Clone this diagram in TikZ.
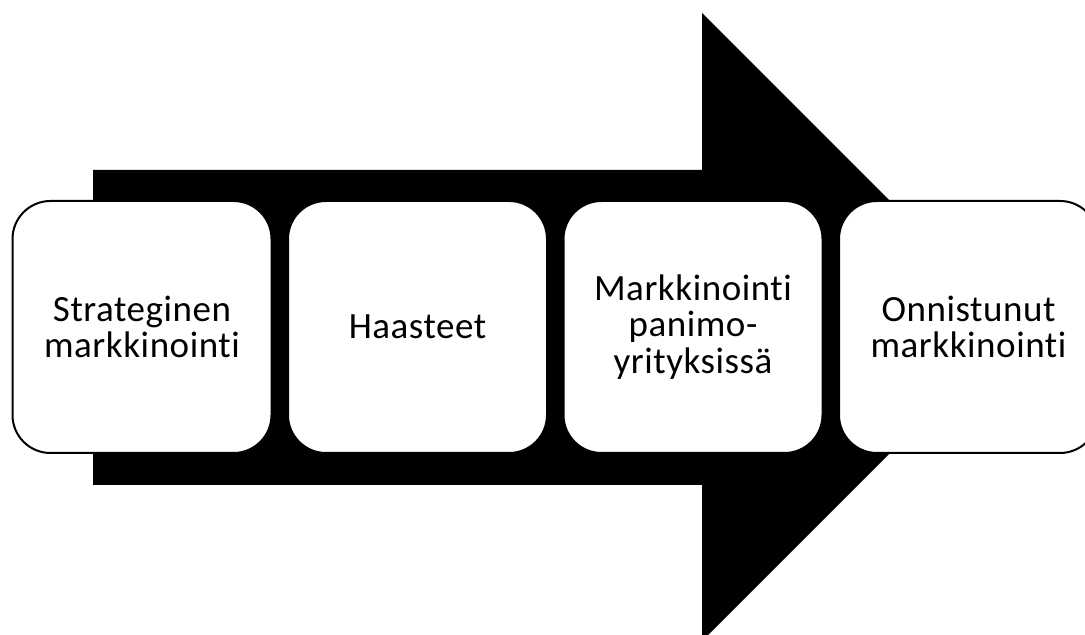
\documentclass[tikz,border=0pt]{standalone}
\usepackage{fontspec}
\setmainfont{Carlito}[Ligatures=NoCommon, LetterSpace=1.5]
\usetikzlibrary{positioning}

\begin{document}
\begin{tikzpicture}[x=0.5pt, y=0.5pt, node distance=137.75pt, on grid,
        phase/.style={draw, line width=1pt, fill=white, rounded corners=19pt,
            minimum width=129.5pt, minimum height=126pt, inner sep=0pt,
            align=center, font=\fontsize{18.5}{18.3}\selectfont}]
        \clip (0,0) rectangle (1085,635);
        \fill (93,465) -- (702,465) -- (702,622) -- (1016,308) -- (702,-6) -- (702,150) -- (93,150) -- cycle;

        \node[phase] (strateginen) at (142,308) {Strateginen\\markkinointi};
        \node[phase, right=of strateginen] (haasteet) {Haasteet};
        \node[phase, right=of haasteet] (panimo) {Markkinointi\\panimo-\\yrityksissä};
        \node[phase, right=of panimo] (onnistunut) {Onnistunut\\markkinointi};
    \end{tikzpicture}
\end{document}
